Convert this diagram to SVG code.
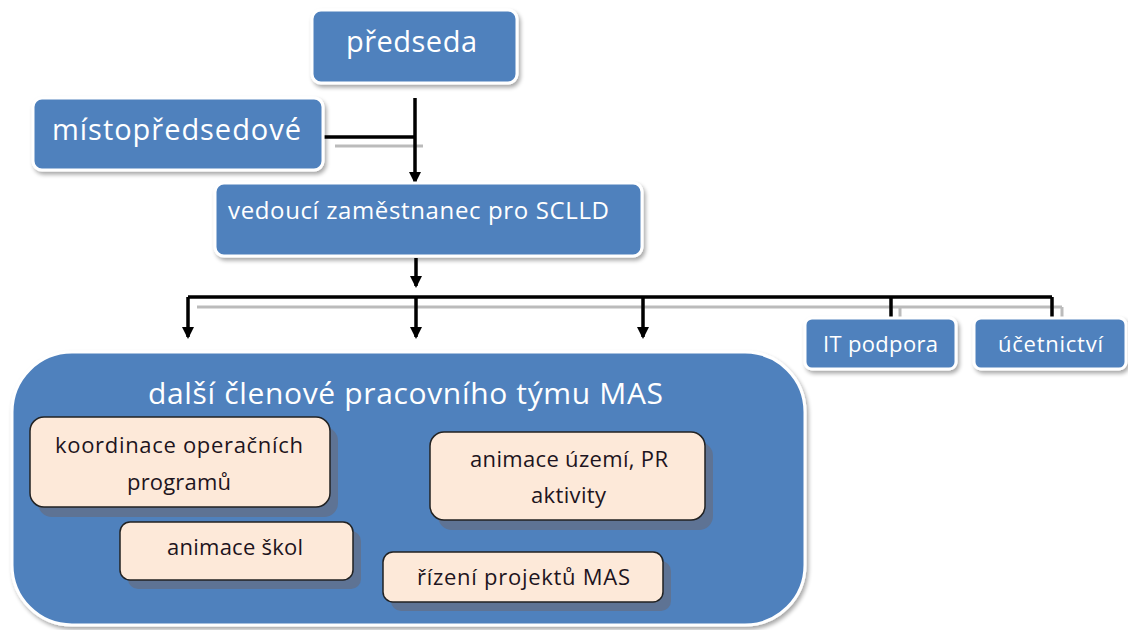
<svg xmlns="http://www.w3.org/2000/svg" width="1128" height="630" viewBox="0 0 1128 630">
<defs>
<marker id="ah" markerWidth="12" markerHeight="12" refX="10" refY="6" orient="auto" markerUnits="userSpaceOnUse" viewBox="0 0 12 12">
<path d="M0,0 L12,6 L0,12 Z" fill="#000"/>
</marker>
<filter id="sh" x="-10%" y="-10%" width="130%" height="140%">
<feGaussianBlur in="SourceAlpha" stdDeviation="2"/>
<feOffset dx="2" dy="3"/>
<feComponentTransfer><feFuncA type="linear" slope="0.35"/></feComponentTransfer>
<feMerge><feMergeNode/><feMergeNode in="SourceGraphic"/></feMerge>
</filter>
</defs>
<style>
.blue{fill:#4F81BD;stroke:#fff;stroke-width:3;filter:url(#sh)}
.peach{fill:#FDE9D9;stroke:#222;stroke-width:1.5}
.pshadow{fill:#5E7394}
.wt{fill:#fff;font-family:"Open Sans","Liberation Sans",sans-serif}
.dt{fill:#1d1420;font-family:"Open Sans","Liberation Sans",sans-serif;font-size:22px}
.ln{stroke:#000;stroke-width:3.5;fill:none}
.gl{stroke:#bbb;stroke-width:3;fill:none}
</style>
<g id="connectors">
<path class="gl" d="M335,146 H423"/>
<path class="gl" d="M197,307 H1062 M900,307 V322 M1062,307 V322"/>
<path class="ln" d="M415,98 V182" marker-end="url(#ah)"/>
<path class="ln" d="M323,137 H415"/>
<path class="ln" d="M416,258 V286" marker-end="url(#ah)"/>
<path class="ln" d="M188,297 H1052 M891,297 V320 M1052,297 V320"/>
<path class="ln" d="M188,297 V337" marker-end="url(#ah)"/>
<path class="ln" d="M416,297 V337" marker-end="url(#ah)"/>
<path class="ln" d="M643,297 V337" marker-end="url(#ah)"/>
</g>
<g id="predseda">
<rect class="blue" x="312" y="10" width="205" height="73" rx="9"/>
<text class="wt" x="346" y="52" font-size="29" textLength="131">předseda</text>
</g>
<g id="mistopredsedove">
<rect class="blue" x="33" y="98" width="290" height="72" rx="9"/>
<text class="wt" x="52" y="140" font-size="29" textLength="249">místopředsedové</text>
</g>
<g id="vedouci">
<rect class="blue" x="215" y="183" width="427" height="73" rx="9"/>
<text class="wt" x="228" y="219" font-size="24" textLength="381">vedoucí zaměstnanec pro SCLLD</text>
</g>
<g id="it-podpora">
<rect class="blue" x="805" y="318" width="151" height="51" rx="7"/>
<text class="wt" x="823" y="352" font-size="22" textLength="115">IT podpora</text>
</g>
<g id="ucetnictvi">
<rect class="blue" x="974" y="318" width="152" height="51" rx="7"/>
<text class="wt" x="998" y="352" font-size="22" textLength="105">účetnictví</text>
</g>
<g id="dalsi-clenove">
<rect class="blue" x="12" y="352" width="793" height="273" rx="60"/>
<text class="wt" x="148" y="404" font-size="30" textLength="515">další členové pracovního týmu MAS</text>
</g>
<g id="koordinace">
<rect class="pshadow" x="38" y="427" width="300" height="90" rx="14"/>
<rect class="peach" x="30" y="417" width="300" height="90" rx="14"/>
<text class="dt" x="55" y="453" textLength="248">koordinace operačních</text>
<text class="dt" x="127" y="490" textLength="104">programů</text>
</g>
<g id="animace-uzemi">
<rect class="pshadow" x="438" y="442" width="275" height="88" rx="14"/>
<rect class="peach" x="430" y="432" width="275" height="88" rx="14"/>
<text class="dt" x="470" y="467" textLength="198">animace území, PR</text>
<text class="dt" x="531" y="503" textLength="75">aktivity</text>
</g>
<g id="animace-skol">
<rect class="pshadow" x="128" y="531" width="233" height="58" rx="10"/>
<rect class="peach" x="120" y="522" width="233" height="58" rx="10"/>
<text class="dt" x="167" y="555" textLength="136">animace škol</text>
</g>
<g id="rizeni">
<rect class="pshadow" x="391" y="561" width="280" height="50" rx="10"/>
<rect class="peach" x="383" y="552" width="280" height="50" rx="10"/>
<text class="dt" x="417" y="585" textLength="213">řízení projektů MAS</text>
</g>
</svg>
